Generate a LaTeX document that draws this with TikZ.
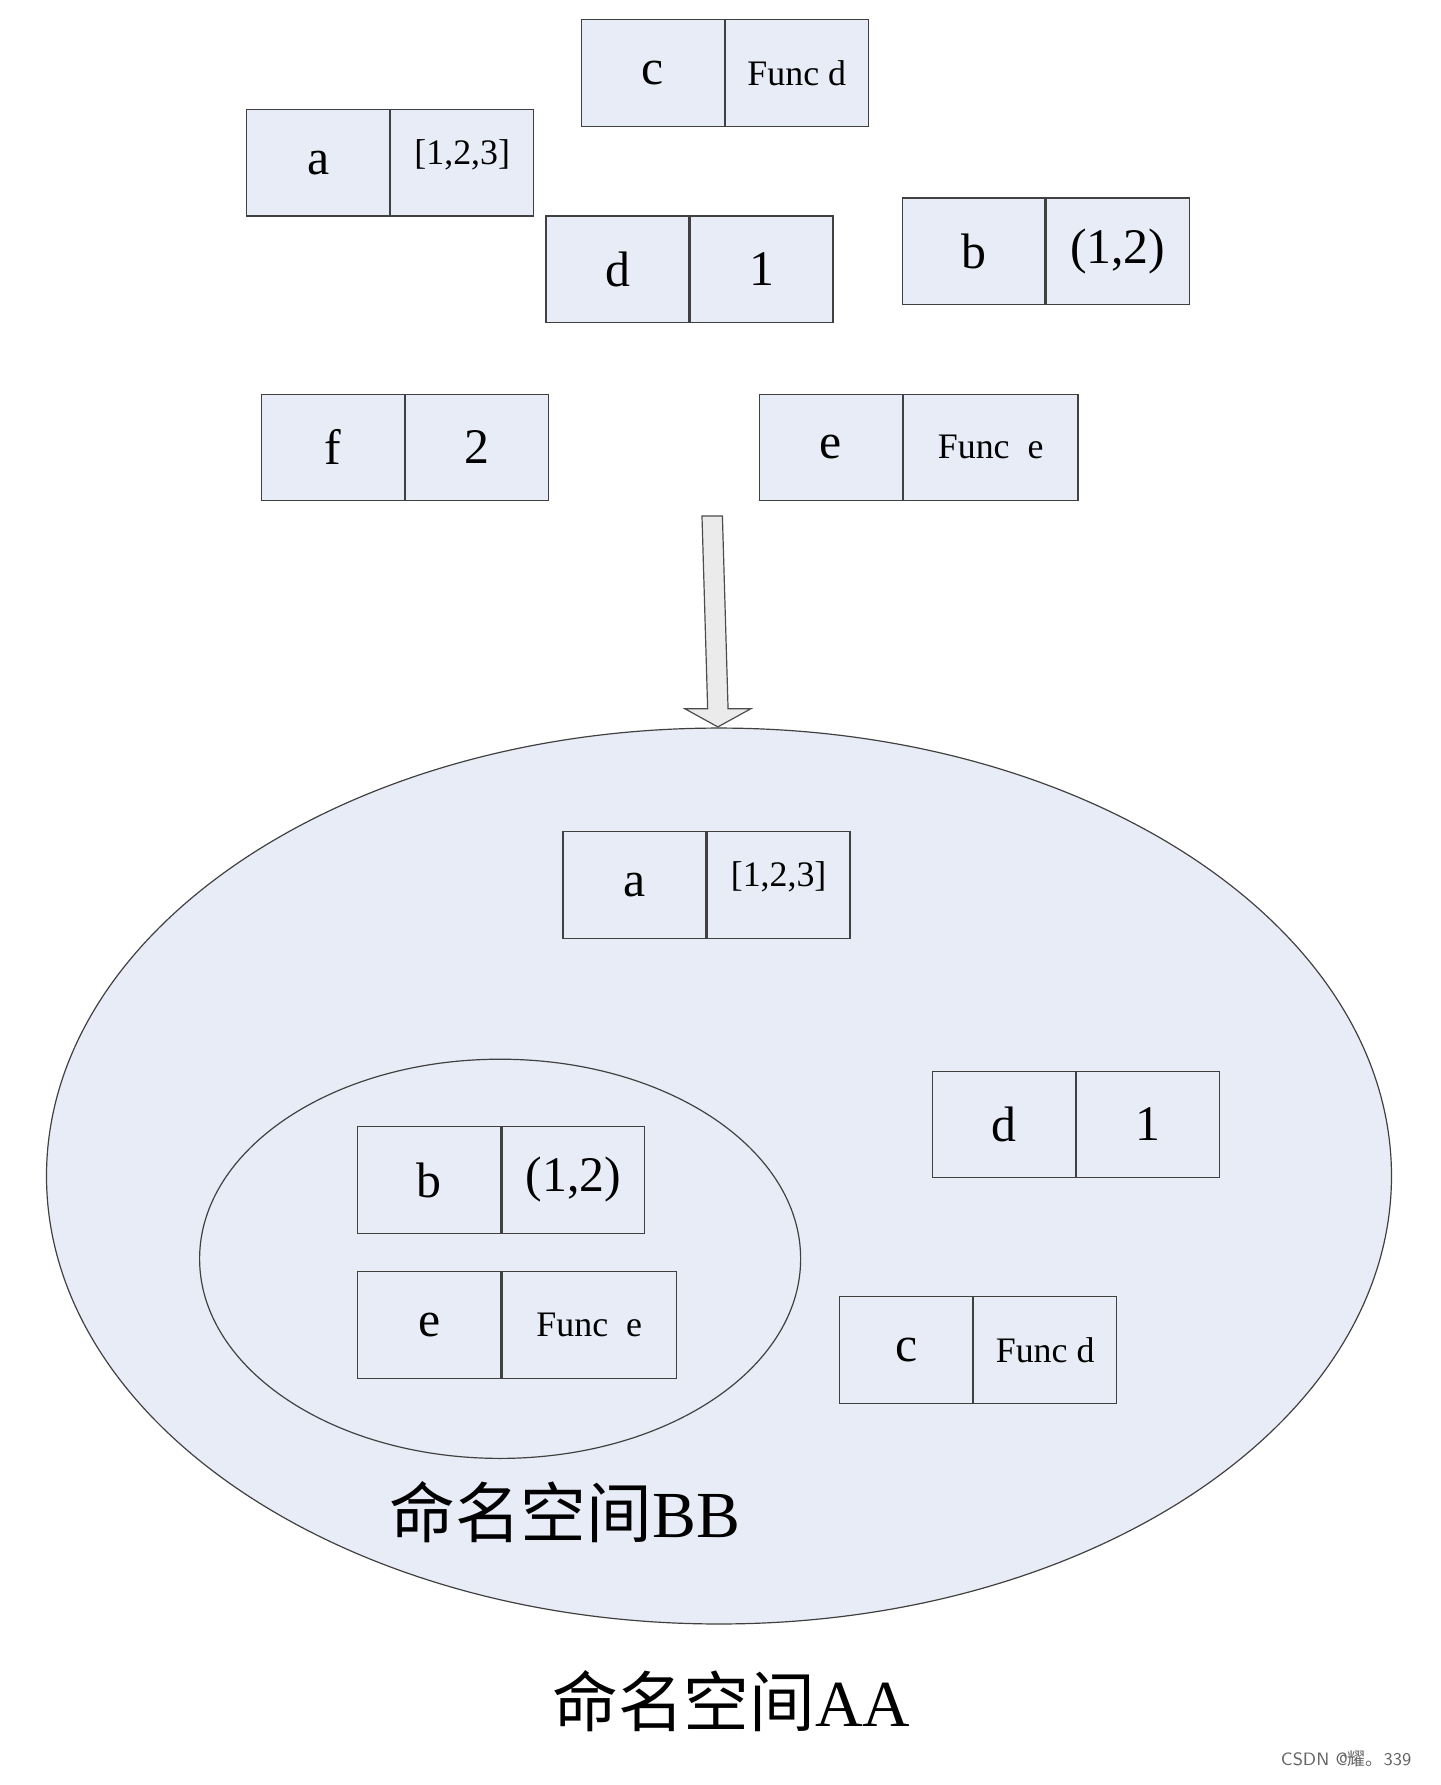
\documentclass[tikz,border=0pt]{standalone}
\usepackage{fontspec}
\setmainfont{Liberation Serif}
\newfontfamily\cjk{Noto Sans CJK SC}
\begin{document}
\begin{tikzpicture}[x=0.02cm,y=-0.02cm,
  cell/.style={draw=black!75, line width=0.6pt, fill=boxfill, minimum height=1.88cm, inner sep=0pt, anchor=north west},
  big/.style={font=\fontsize{25}{25}\selectfont},
  small/.style={font=\fontsize{18}{18}\selectfont},
  region/.style={draw=black!75, line width=0.6pt, fill=boxfill}]
\definecolor{boxfill}{RGB}{232,236,246}
\useasboundingbox[fill=white] (0,0) rectangle (1270,1574);
% top boxes
\newcommand\pairbox[8]{%
  \node[cell,big,minimum width=#4*0.02cm] (#1L) at (#2,#3) {#6};
  \node[cell,#8,minimum width=#5*0.02cm] (#1R) at (#1L.north east) {#7};}
\pairbox{tc}{512}{17}{126}{126}{c}{Func d}{small}
\pairbox{ta}{217}{96}{126}{126}{a}{\raisebox{0.6em}{[1,2,3]}}{small}
\pairbox{td}{481}{190}{126}{126}{d}{1}{big}
\pairbox{tb}{795}{174}{126}{126}{b}{(1,2)}{big}
\pairbox{tf}{230}{347}{126}{126}{f}{2}{big}
\pairbox{te}{669}{347}{126}{154}{e}{Func\ \ e}{small}
% arrow
\draw[draw=black!70, fill=white!92!black, line width=0.6pt]
  (619,455) -- (637,455) -- (642,625) -- (662,625) -- (633,641) -- (604,625) -- (624,625) -- cycle;
% ellipses
\draw[region] (634,1037) ellipse [x radius=593, y radius=395];
\draw[region] (441,1110) ellipse [x radius=265, y radius=176];
\pairbox{ia}{496}{733}{126}{126}{a}{\raisebox{0.6em}{[1,2,3]}}{small}
\pairbox{id}{822}{944}{126}{126}{d}{1}{big}
\pairbox{ib}{315}{993}{126}{126}{b}{(1,2)}{big}
\pairbox{ie}{315}{1121}{126}{154}{e}{Func\ \ e}{small}
\pairbox{ic}{740}{1143}{117}{126}{c}{Func d}{small}
\node[font=\fontsize{33}{33}\selectfont] (lbb) at (498,1333) {{\cjk 命名空间}BB};
\node[font=\fontsize{33}{33}\selectfont] (laa) at (645,1500) {{\cjk 命名空间}AA};
\node[font=\fontsize{9}{9}\selectfont\sffamily, text=black!60] (wm) at (1187,1551) {CSDN @{\cjk 耀。}339};
\end{tikzpicture}
\end{document}
